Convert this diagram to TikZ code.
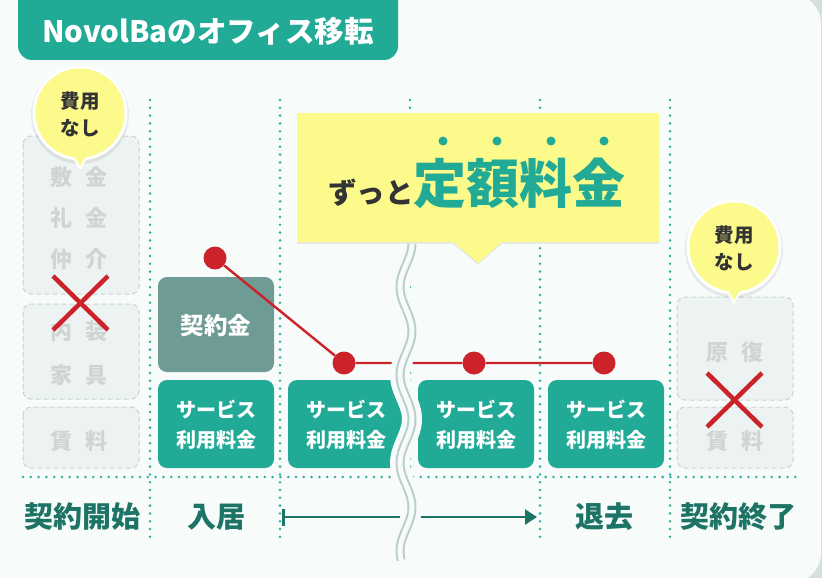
\documentclass[tikz,border=0pt]{standalone}
\usepackage{fontspec}
\setmainfont{Noto Sans CJK JP}
\usetikzlibrary{arrows.meta,shadows}
\definecolor{bgc}{HTML}{F7FCFB}
\definecolor{outc}{HTML}{D3E1DE}
\definecolor{tealc}{HTML}{21AA96}
\definecolor{darktealc}{HTML}{1D7365}
\definecolor{greyteal}{HTML}{6E9B93}
\definecolor{redc}{HTML}{CC2229}
\definecolor{yellowc}{HTML}{FBFA8A}
\definecolor{dotc}{HTML}{28B09C}
\definecolor{ghostfill}{HTML}{EDF3F2}
\definecolor{ghostline}{HTML}{C6D5D2}
\definecolor{ghosttext}{HTML}{D0D5D4}
\definecolor{wavec}{HTML}{B9CDCA}
\definecolor{inkc}{HTML}{333333}
\tikzset{
  dotline/.style={dotc, line width=2.8pt, line cap=round, dash pattern=on 0pt off 7.8pt},
  ghostbox/.style={fill=ghostfill, draw=ghostline, line width=1pt, dash pattern=on 5pt off 3pt, rounded corners=8pt},
  ghosttxt/.style={text=ghosttext, inner sep=0pt, font=\fontsize{22}{22}\selectfont\bfseries},
  svcbox/.style={fill=tealc, rounded corners=9pt},
  svctxt/.style={text=white, align=center, inner sep=0pt, font=\fontsize{20}{30}\selectfont\bfseries},
  redx/.style={redc, line width=4.5pt},
  reddot/.style={circle, fill=redc, minimum size=23pt, inner sep=0pt},
  redline/.style={redc, line width=2.4pt},
  lbl/.style={text=darktealc, inner sep=0pt, font=\fontsize{29}{29}\selectfont\bfseries},
  bubtxt/.style={text=inkc, align=center, inner sep=0pt, font=\fontsize{19.5}{27}\selectfont\bfseries},
  emdot/.style={circle, fill=tealc, minimum size=9pt, inner sep=0pt},
}
\newcommand{\wavepath}{plot[variable=\t, domain=244:560, samples=90, smooth] ({406+6*cos((\t-243)*4.09)},\t)}
\begin{document}
\begin{tikzpicture}[x=1pt,y=-1pt]
\useasboundingbox (0,0) rectangle (822,578);
% background card
\fill[outc] (0,0) rectangle (822,578);
\fill[bgc, rounded corners=30pt] (-40,-6) rectangle (821,583);
% title tab
\fill[tealc, rounded corners=14pt] (18,-30) rectangle (398,60);
\node[text=white, inner sep=0pt, font=\fontsize{29.5}{29.5}\selectfont\bfseries] (title) at (208,31) {NovolBaのオフィス移転};
% dotted grid
\foreach \xx in {150,280,410,540,670} { \draw[dotline] (\xx,100) -- (\xx,542); }
\draw[dotline] (23,477) -- (797,477);
% ghost boxes left
\draw[ghostbox] (23,136) rectangle (139,294);
\draw[ghostbox] (23,304) rectangle (139,399);
\draw[ghostbox] (23,407) rectangle (139,468);
\node[ghosttxt] (g1) at (79,177) {敷\hspace{13pt}金};
\node[ghosttxt] (g2) at (79,218) {礼\hspace{13pt}金};
\node[ghosttxt] (g3) at (79,259) {仲\hspace{13pt}介};
\node[ghosttxt] (g4) at (79,331) {内\hspace{13pt}装};
\node[ghosttxt] (g5) at (79,375) {家\hspace{13pt}具};
\node[ghosttxt] (g6) at (79,441) {賃\hspace{13pt}料};
% ghost boxes right
\draw[ghostbox] (677,297) rectangle (793,400);
\draw[ghostbox] (677,407) rectangle (793,468);
\node[ghosttxt] (g7) at (735,352) {原\hspace{13pt}復};
\node[ghosttxt] (g8) at (735,441) {賃\hspace{13pt}料};
% red crosses
\draw[redx] (53,276) -- (108,330) (108,276) -- (53,330);
\draw[redx] (707,373) -- (762,427) (762,373) -- (707,427);
% bubbles
\foreach \cx/\cy in {80/113, 734/247} {
  \fill[black, opacity=0.07] (\cx,\cy+2) circle (49);
  \fill[white] (\cx,\cy) circle (47.5);
  \fill[white, line join=round] (\cx-12,\cy+37) -- (\cx,\cy+57) -- (\cx+12,\cy+37) -- cycle;
  \fill[yellowc] (\cx,\cy) circle (44.5);
  \fill[yellowc] (\cx-9,\cy+38) -- (\cx,\cy+53) -- (\cx+9,\cy+38) -- cycle;
}
\node[bubtxt] (bub1) at (80,114) {費用\\なし};
\node[bubtxt] (bub2) at (734,248) {費用\\なし};
% contract fee box
\fill[greyteal, rounded corners=9pt] (158,277) rectangle (274,372);
\node[text=white, inner sep=0pt, font=\fontsize{23.5}{23.5}\selectfont\bfseries] (keiyaku) at (216,326) {契約金};
% service boxes
\foreach \bx/\nm in {158/s1, 288/s2, 418/s3, 548/s4} {
  \fill[svcbox] (\bx,380) rectangle (\bx+116,468);
  \node[svctxt] (\nm) at (\bx+58,425) {サービス\\利用料金};
}
% red line
\node[reddot] (d1) at (215,258) {};
\node[reddot] (d2) at (344,363) {};
\node[reddot] (d3) at (474,363) {};
\node[reddot] (d4) at (604,363) {};
\draw[redline] (d1) -- (d2) -- (d3) -- (d4);
% arrow
\coordinate (arrS) at (282,517);
\coordinate (arrE) at (537,517);
\draw[darktealc, line width=2.6pt, {Bar[width=17pt]}-{Triangle[length=12pt,width=15pt]}] (arrS) -- (arrE);
% wave break
\draw[bgc, line width=20pt] \wavepath;
\draw[wavec, line width=9pt] \wavepath;
\draw[bgc, line width=5pt] \wavepath;
% callout
\fill[yellowc, drop shadow={opacity=0.18, shadow xshift=0pt, shadow yshift=-1.5pt}] (297,113) -- (659,113) -- (659,242) -- (502,242) -- (478,263) -- (453,242) -- (297,242) -- cycle;
\node[anchor=base, inner sep=0pt, font=\bfseries] (callout) at (477,203) {{\color{inkc}\fontsize{28.5}{28.5}\selectfont ずっと}{\color{tealc}\fontsize{53}{53}\selectfont 定額料金}};
\node[emdot] (e1) at (443,141) {};
\node[emdot] (e2) at (497,141) {};
\node[emdot] (e3) at (551,141) {};
\node[emdot] (e4) at (604,141) {};
% bottom labels
\node[lbl] (l1) at (82,517) {契約開始};
\node[lbl] (l2) at (216,517) {入居};
\node[lbl] (l3) at (604,517) {退去};
\node[lbl] (l4) at (738,517) {契約終了};
\end{tikzpicture}
\end{document}
